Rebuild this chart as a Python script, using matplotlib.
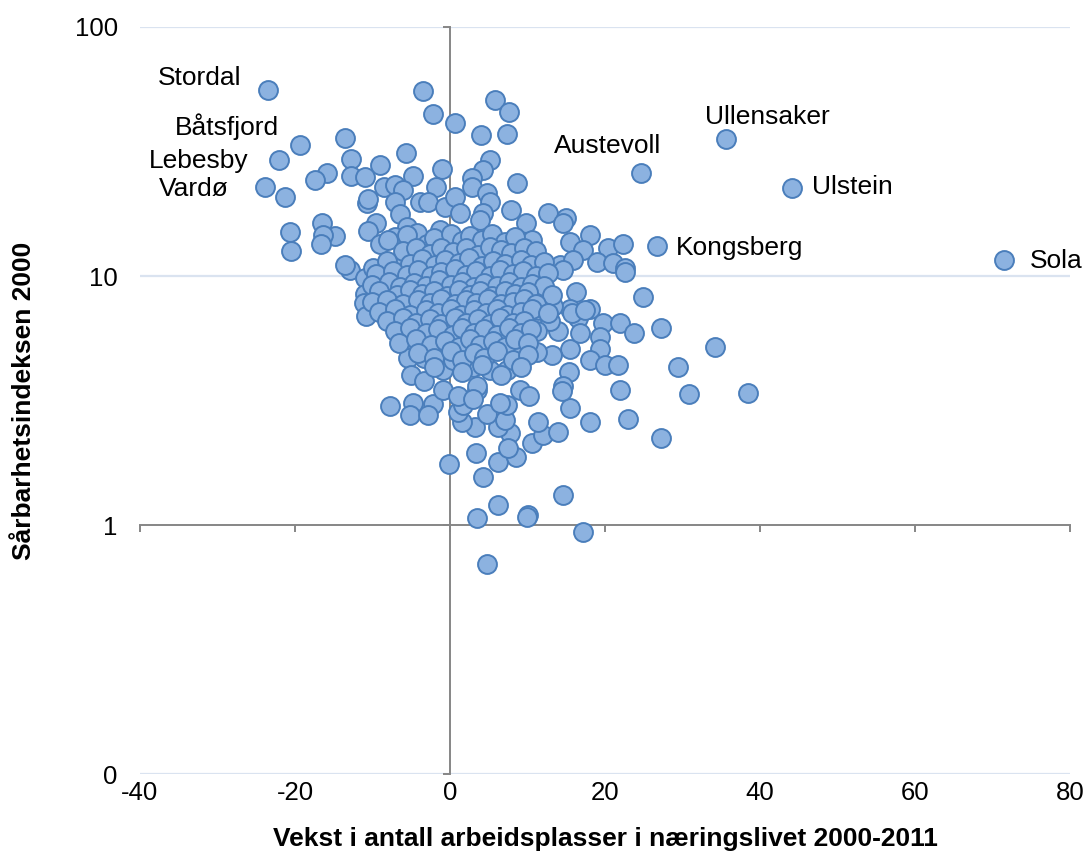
import matplotlib
matplotlib.use("Agg")
import matplotlib.pyplot as plt
from matplotlib.ticker import NullLocator

plt.rcParams['font.family'] = ['Liberation Sans', 'DejaVu Sans']

# vekst i antall arbeidsplasser 2000-2011 (x) og sårbarhetsindeks 2000 (y), lest av figuren
# kommuner med navn
vekst = [-23.5, -19.4, -22.1, -23.9, 35.6, 24.6, 44.1, 26.7, 71.5]
sarbarhet = [55.8, 33.6, 29.2, 22.7, 35.5, 25.9, 22.5, 13.2, 11.6]
navn = ["Stordal", "Båtsfjord", "Lebesby", "Vardø", "Ullensaker", "Austevoll", "Ulstein", "Kongsberg", "Sola"]

# øvre del
vekst += [-21.3, -3.5, -2.2, 0.6, -13.5, -5.7, -12.8, -9.0, -1.0, -15.9, -17.4, -12.8, -11.0, -4.8,
          -8.5, -7.1, -6.1, -1.8, -10.7, -10.6, -7.1, -3.9, -2.8, -6.5, -0.6, -9.5, -20.6, -16.5,
          -14.8, -16.4, -16.6, -20.5, -10.6, -5.5, -7.1, -9.0, -4.3, -3.0, -1.3]
sarbarhet += [20.8, 55.5, 44.7, 41.0, 35.8, 31.2, 29.6, 27.9, 26.9, 25.9, 24.3, 25.2, 25.0, 25.2,
              22.7, 23.2, 22.1, 22.7, 19.7, 20.3, 19.8, 19.8, 19.8, 17.8, 18.9, 16.4, 15.0, 16.3,
              14.5, 14.6, 13.4, 12.6, 15.2, 15.7, 14.3, 13.5, 14.9, 13.5, 15.3]

vekst += [5.8, 7.6, 4.0, 7.4, 5.2, 4.3, 8.6, 2.8, 2.8, 4.8, 5.2, 0.6, 7.9, 12.6, 15.0, 14.6, 9.8,
          4.3, 3.9, 1.3, 18.1, 15.5, 10.6, 17.2, 20.4, 22.3, 10.7, 14.2, 15.9, 19.0, 21.0, 22.6,
          22.6, 14.6, 8.6, 6.5, 4.8, 3.0]
sarbarhet += [51.0, 45.5, 36.8, 37.2, 29.2, 26.7, 23.6, 24.8, 22.7, 21.6, 19.8, 20.8, 18.4, 17.9,
              17.1, 16.3, 16.3, 17.9, 16.8, 17.9, 14.6, 13.7, 13.9, 12.7, 13.0, 13.5, 11.9, 11.1,
              11.6, 11.4, 11.3, 10.8, 10.4, 10.6, 11.6, 12.1, 12.7, 12.4]

# høyre del
vekst += [24.9, 16.3, 18.1, 15.5, 16.5, 19.7, 21.9, 23.7, 27.2, 19.4, 15.5, 19.4, 18.1, 20.0,
          21.7, 34.2, 29.4, 15.4, 21.9, 30.8, 38.5, 14.6, 15.5, 18.1, 23.0, 27.2]
sarbarhet += [8.2, 8.6, 7.4, 7.4, 6.8, 6.5, 6.5, 5.9, 6.2, 5.7, 5.1, 5.1, 4.6, 4.4,
              4.4, 5.2, 4.3, 4.1, 3.5, 3.35, 3.4, 3.6, 2.95, 2.6, 2.66, 2.24]

# nedre del
vekst += [-7.7, -4.8, -2.2, -5.2, -2.8, -0.1, 3.4, 4.3, 6.2, 8.5, 10.6, 12.0, 13.9, 11.4, 7.7,
          7.5, 6.2, 7.1, 3.2, 1.5, 1.0, 1.7, 4.8, 3.5, -0.9, 7.4, 9.0, 10.2, 14.5, 14.6, 6.2,
          3.5, 10.1, 9.9, 4.8, 17.2]
sarbarhet += [3.0, 3.1, 3.05, 2.76, 2.76, 1.76, 1.95, 1.56, 1.79, 1.88, 2.13, 2.3, 2.36, 2.6, 2.34,
              2.04, 2.47, 2.64, 2.47, 2.6, 2.84, 3.03, 2.8, 3.5, 3.5, 3.03, 3.5, 3.3, 3.45, 1.32, 1.2,
              1.07, 1.1, 1.08, 0.70, 0.94]

# venstre kant av klyngen
vekst += [-12.9, -13.5, -11.0, -11.0, -11.1, -10.8, -9.9, -8.4, -8.6, -7.1, -6.8, -6.1, -7.1,
          -6.1, -5.4, -5.0, -3.4, -3.4, -3.5, -0.9, -5.5, -3.9, -1.3, 0.4, 0.0]
sarbarhet += [10.6, 11.1, 9.8, 8.5, 7.8, 6.9, 10.8, 9.5, 8.5, 8.3, 10.9, 9.9, 6.5,
              5.5, 4.7, 4.0, 3.8, 4.7, 5.4, 4.2, 6.0, 6.1, 5.2, 4.6, 6.6]

# høyre kant av klyngen
vekst += [13.2, 11.2, 8.6, 7.4, 5.2, 3.0, 3.5, 1.0, 3.0, 6.5, 16.8, 13.9, 11.4, 11.6, 13.3, 15.7,
          17.4, 12.9, 11.2, 8.6, 11.6, 9.0, 6.5]
sarbarhet += [4.8, 4.95, 4.9, 4.2, 4.2, 4.3, 3.6, 3.3, 3.2, 3.1, 5.9, 6.0, 7.3, 7.9, 7.6, 7.1,
              7.3, 6.6, 6.0, 8.0, 8.9, 9.6, 11.1]

# tett klynge i midten
vekst += [-8.0, -5.6, -2.1, 0.1, 1.6, 2.6, 4.1, 5.4, 7.1, 8.4,
          -6.1, -4.4, -2.6, -1.1, 0.4, 2.1, 3.6, 5.1, 6.6, 7.9, 9.6, 11.1,
          -8.1, -5.1, -3.6, -2.0, -0.6, 1.1, 2.4, 4.1, 5.6, 7.1, 9.1, 10.4, 12.1,
          -9.6, -7.4, -5.6, -4.1, -2.4, -1.1, 0.6, 2.1, 3.4, 5.1, 6.4, 8.1, 9.4, 11.1, 12.6,
          -10.1, -7.9, -6.4, -4.6, -3.1, -1.4, 0.1, 1.6, 3.1, 4.4, 6.1, 7.6, 9.1, 10.6, 12.1,
          -9.1, -6.9, -5.1, -3.6, -2.1, -0.4, 1.1, 2.6, 3.9, 5.4, 7.1, 8.4, 10.1, 13.1,
          -10.1, -8.1, -6.1, -4.1, -2.6, -1.1, 0.6, 2.1, 3.4, 4.9, 6.6, 8.1, 9.6, 11.1,
          -9.1, -7.1, -5.1, -3.1, -1.6, 0.1, 1.4, 3.1, 4.6, 6.1, 7.4, 9.1, 10.6, 12.6,
          -8.1, -6.1, -4.4, -2.6, -1.1, 0.6, 2.1, 3.6, 5.1, 6.4, 8.1, 9.6,
          -7.1, -5.1, -3.1, -1.6, 0.4, 1.6, 3.1, 4.4, 6.1, 7.6, 9.1, 10.4,
          -6.6, -4.4, -2.4, -0.6, 1.1, 2.6, 3.9, 5.6, 7.1, 8.4, 10.1,
          -4.1, -2.1, 0.1, 1.6, 3.1, 4.4, 6.1, 8.1, 10.1,
          -2.1, 1.6, 4.1, 6.6, 9.1]
sarbarhet += [14.0, 14.6, 14.2, 14.8, 13.8, 14.5, 13.9, 14.7, 13.7, 14.3,
              12.6, 12.9, 12.3, 13.0, 12.5, 12.9, 12.2, 13.1, 12.7, 12.4, 12.9, 12.6,
              11.5, 11.2, 11.7, 11.1, 11.6, 11.3, 11.8, 11.0, 11.5, 11.2, 11.6, 11.1, 11.4,
              10.2, 10.5, 10.1, 10.6, 10.0, 10.4, 10.7, 10.1, 10.5, 10.0, 10.6, 10.2, 10.5, 10.0, 10.3,
              9.2, 9.5, 9.0, 9.4, 9.1, 9.6, 9.2, 9.5, 9.0, 9.4, 9.1, 9.5, 9.0, 9.3, 9.1,
              8.7, 8.4, 8.8, 8.5, 8.7, 8.3, 8.8, 8.4, 8.7, 8.3, 8.7, 8.5, 8.6, 8.4,
              7.9, 8.0, 7.7, 8.0, 7.8, 8.1, 7.7, 8.0, 7.8, 8.1, 7.7, 7.9, 8.1, 7.7,
              7.2, 7.4, 7.0, 7.3, 7.1, 7.4, 7.0, 7.3, 7.1, 7.4, 7.0, 7.2, 7.4, 7.1,
              6.6, 6.8, 6.5, 6.7, 6.4, 6.8, 6.5, 6.7, 6.4, 6.8, 6.5, 6.6,
              6.0, 6.2, 5.9, 6.1, 5.8, 6.2, 5.9, 6.1, 5.8, 6.2, 5.9, 6.1,
              5.4, 5.6, 5.3, 5.5, 5.2, 5.6, 5.3, 5.5, 5.2, 5.6, 5.4,
              4.9, 4.7, 5.0, 4.6, 4.9, 4.7, 5.0, 4.6, 4.8,
              4.3, 4.1, 4.4, 4.0, 4.3]

x_ticks = [-40, -20, 0, 20, 40, 60, 80]
y_ticks = [0.1, 1, 10, 100]
y_labels = ["0", "1", "10", "100"]

# plassering av navnene (punkter) og justering
navn_offset = [(-19.4, 8.6), (-15.1, 13), (-21.6, -0.7), (-26, -1.4), (29.5, 15.8),
               (-23.8, 19.4), (14.4, 0.7), (13.7, -1.4), (18.7, -0.7)]
navn_ha = ["right", "right", "right", "right", "center", "center", "left", "left", "left"]

fig = plt.figure(figsize=(10.86, 8.57), dpi=100)
ax = fig.add_axes([0.1289, 0.0968, 0.8564, 0.8717])

grid_color = "#dae3f0"
axis_color = "#868686"

ax.set_yscale("log")
ax.set_xlim(-40, 80)
ax.set_ylim(0.1, 100)

for yv in [0.1, 10, 100]:
    ax.axhline(yv, color=grid_color, lw=1.6, zorder=0)

ax.scatter(vekst, sarbarhet, s=185, color="#8cb2e0", edgecolors="#4a7ebb", linewidths=1.4, zorder=3)

for i in range(len(navn)):
    ax.annotate(navn[i], (vekst[i], sarbarhet[i]), xytext=navn_offset[i], textcoords="offset points",
                ha=navn_ha[i], va="center", fontsize=19)

# aksene krysser i x=0 og y=1
ax.spines["top"].set_visible(False)
ax.spines["right"].set_visible(False)
ax.spines["left"].set_position(("data", 0))
ax.spines["bottom"].set_position(("data", 1))
for s in ["left", "bottom"]:
    ax.spines[s].set_color(axis_color)
    ax.spines[s].set_linewidth(1.4)
    ax.spines[s].set_zorder(1)
ax.set_xticks(x_ticks)
ax.set_yticks(y_ticks)
ax.yaxis.set_minor_locator(NullLocator())
ax.tick_params(axis="both", direction="out", length=5, width=1.4, color=axis_color,
               labelbottom=False, labelleft=False)

# tallene på kanten av plottet
sx = ax.secondary_xaxis("bottom")
sx.set_xticks(x_ticks)
sx.set_xticklabels([str(v) for v in x_ticks])
sx.spines["bottom"].set_visible(False)
sx.tick_params(length=0, pad=5, labelsize=18.5)

sy = ax.secondary_yaxis("left")
sy.set_yticks(y_ticks)
sy.set_yticklabels(y_labels)
sy.yaxis.set_minor_locator(NullLocator())
sy.spines["left"].set_visible(False)
sy.tick_params(length=0, pad=16, labelsize=18.5)

sx.set_xlabel("Vekst i antall arbeidsplasser i næringslivet 2000-2011", fontsize=19,
              fontweight="bold", labelpad=16)
sy.set_ylabel("Sårbarhetsindeksen 2000", fontsize=19, fontweight="bold", labelpad=28)

fig.savefig("out.png", dpi=100)
